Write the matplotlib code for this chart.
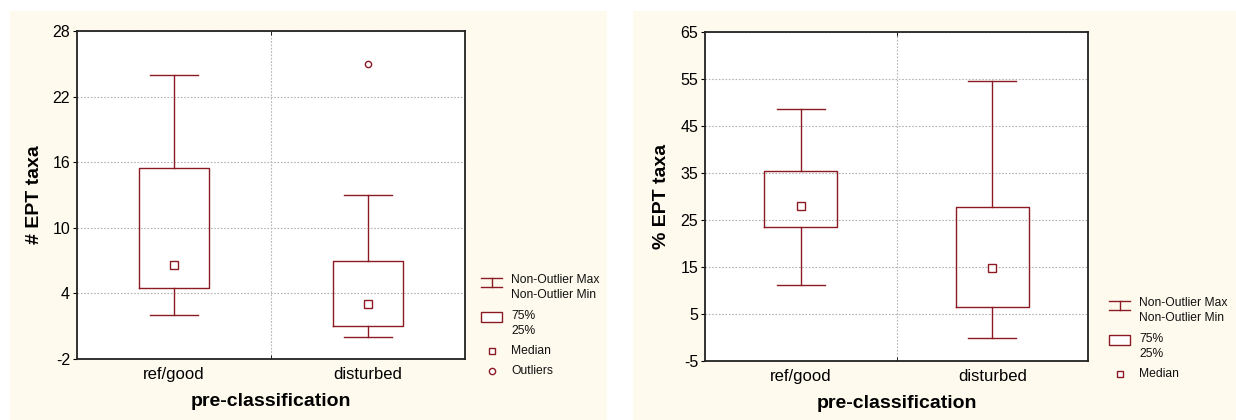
import numpy as np
import matplotlib
matplotlib.use("Agg")
import matplotlib.pyplot as plt
from matplotlib.patches import Rectangle
from matplotlib.lines import Line2D

plt.rcParams['font.family'] = ['Liberation Sans', 'DejaVu Sans']
plt.rcParams['axes.unicode_minus'] = False

categories = ['ref/good', 'disturbed']

# number of EPT taxa
n_med = [6.6, 3.0]
n_q1 = [4.5, 1.0]
n_q3 = [15.5, 7.0]
n_lo = [2.0, 0.0]
n_hi = [24.0, 13.0]
n_out = [[], [25.0]]

# percent EPT taxa
p_med = [27.9, 14.7]
p_q1 = [23.5, 6.4]
p_q3 = [35.5, 27.7]
p_lo = [11.1, 0.0]
p_hi = [48.7, 54.5]
p_out = [[], []]

RED = '#8b1a22'
CREAM = '#fefaee'
W, H = 1236, 420


def fx(x):
    return x / W


def fy(y):
    return 1 - y / H


def draw_panel(ax, med, q1, q3, lo, hi, out, ylim, yticks, ylabel, boxw):
    stats = []
    for i in range(len(categories)):
        stats.append(dict(med=med[i], q1=q1[i], q3=q3[i], whislo=lo[i],
                          whishi=hi[i], fliers=out[i], label=categories[i]))
    lp = dict(color=RED, lw=1.0)
    ax.bxp(stats, positions=[1, 2], widths=boxw, capwidths=0.25,
           showfliers=False, boxprops=lp, whiskerprops=lp, capprops=lp,
           medianprops=dict(visible=False))
    ax.plot([1, 2], med, ls='none', marker='s', ms=5.5, mfc='white',
            mec=RED, mew=1.0, zorder=5)
    for i, o in enumerate(out):
        if o:
            ax.plot([i + 1] * len(o), o, ls='none', marker='o', ms=4.5,
                    mfc='white', mec=RED, mew=1.0, zorder=5)
    ax.set_xlim(0.5, 2.5)
    ax.set_ylim(*ylim)
    ax.set_yticks(yticks)
    ax.set_xticks([1, 2])
    ax.set_xticklabels(categories)
    ax.set_xticks([1.5], minor=True)
    ax.tick_params(axis='x', which='major', length=0, pad=6, labelsize=12)
    ax.tick_params(axis='x', which='minor', length=3, top=True,
                   direction='in')
    ax.tick_params(axis='y', which='major', length=3, pad=2, labelsize=11.5,
                   direction='out')
    ax.grid(True, axis='y', which='major', color='#b4b4b4', lw=0.8,
            ls=(0, (1.5, 1.5)))
    ax.grid(True, axis='x', which='minor', color='#b4b4b4', lw=0.8,
            ls=(0, (1.5, 1.5)))
    ax.set_axisbelow(True)
    for s in ax.spines.values():
        s.set_linewidth(1.3)
        s.set_color('#222222')
    ax.set_ylabel(ylabel, fontsize=14, fontweight='bold', labelpad=7)
    ax.set_xlabel('pre-classification', fontsize=14, fontweight='bold',
                  labelpad=8)


def draw_key(fig, x0, y0, with_outliers):
    # whisker symbol
    xa, xb = x0, x0 + 21
    xm = (xa + xb) / 2
    for yy in (y0, y0 + 9):
        fig.add_artist(Line2D([fx(xa), fx(xb)], [fy(yy), fy(yy)],
                              color=RED, lw=1.0))
    fig.add_artist(Line2D([fx(xm), fx(xm)], [fy(y0), fy(y0 + 9)],
                          color=RED, lw=1.0))
    tx = x0 + 30
    kw = dict(fontsize=8.7, va='center', ha='left', color='#111111')
    fig.text(fx(tx), fy(y0 + 2), 'Non-Outlier Max', **kw)
    fig.text(fx(tx), fy(y0 + 17), 'Non-Outlier Min', **kw)
    # box symbol
    fig.add_artist(Rectangle((fx(xa), fy(y0 + 44)), fx(21), 10 / H,
                             fc='white', ec=RED, lw=1.0))
    fig.text(fx(tx), fy(y0 + 38), '75%', **kw)
    fig.text(fx(tx), fy(y0 + 53), '25%', **kw)
    # median symbol
    fig.add_artist(Line2D([fx(xm)], [fy(y0 + 73)], ls='none', marker='s',
                          ms=5, mfc='white', mec=RED, mew=1.0))
    fig.text(fx(tx), fy(y0 + 73), 'Median', **kw)
    if with_outliers:
        fig.add_artist(Line2D([fx(xm)], [fy(y0 + 93)], ls='none', marker='o',
                              ms=4.5, mfc='white', mec=RED, mew=1.0))
        fig.text(fx(tx), fy(y0 + 93), 'Outliers', **kw)


fig = plt.figure(figsize=(W / 100, H / 100), dpi=100, facecolor='white')
fig.add_artist(Rectangle((fx(10), 0), fx(597), fy(11), fc=CREAM, ec='none',
                         zorder=-10))
fig.add_artist(Rectangle((fx(633), 0), fx(603), fy(11), fc=CREAM, ec='none',
                         zorder=-10))

ax1 = fig.add_axes([fx(77), fy(359), fx(465 - 77), (359 - 31) / H])
draw_panel(ax1, n_med, n_q1, n_q3, n_lo, n_hi, n_out, (-2, 28),
           np.arange(-2, 29, 6), '# EPT taxa', 0.36)

ax2 = fig.add_axes([fx(705), fy(361), fx(1088 - 705), (361 - 32) / H])
draw_panel(ax2, p_med, p_q1, p_q3, p_lo, p_hi, p_out, (-5, 65),
           np.arange(-5, 66, 10), '% EPT taxa', 0.38)

draw_key(fig, 481, 278, True)
draw_key(fig, 1109, 301, False)

fig.savefig('out.png', dpi=100, facecolor='white')
